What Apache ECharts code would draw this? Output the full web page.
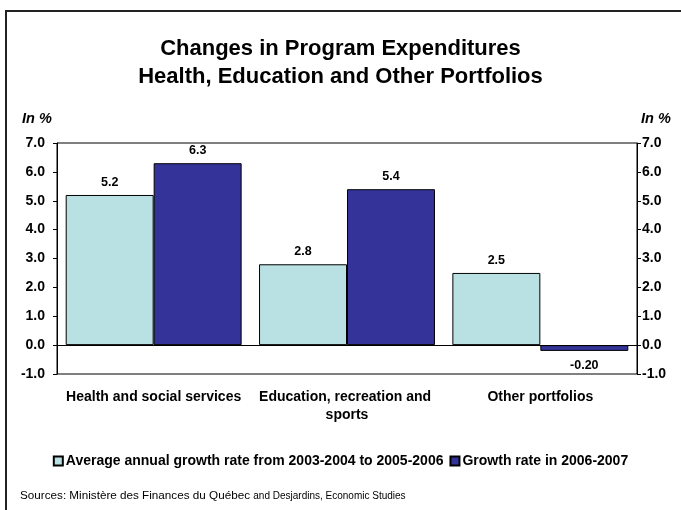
<!DOCTYPE html>
<html>
<head>
<meta charset="utf-8">
<script src="https://cdn.jsdelivr.net/npm/echarts@6/dist/echarts.min.js"></script>
<style>
  html, body { margin: 0; padding: 0; background: #fff; }
  #chart { width: 681px; height: 510px; }
</style>
</head>
<body>
<div id="chart"></div>
<script>
// Program expenditure growth by portfolio, Québec (in %)
const categories = [
  'Health and social services',
  'Education, recreation and sports',
  'Other portfolios'
];
const avgGrowth0306 = [5.2, 2.8, 2.5];
const growth0607 = [6.3, 5.4, -0.2];
const seriesNames = [
  'Average annual growth rate from 2003-2004 to 2005-2006',
  'Growth rate in 2006-2007'
];
const yMin = -1, yMax = 7, yStep = 1;

const FONT = 'Liberation Sans, Arial, sans-serif';
const chart = echarts.init(document.getElementById('chart'), null, { renderer: 'canvas' });

function fmt(v) {
  return v < 0 ? v.toFixed(2) : v.toFixed(1);
}

function barData(values) {
  return values.map(v => ({
    value: v,
    label: { position: v < 0 ? 'bottom' : 'top', distance: v < 0 ? 8 : 6 }
  }));
}

const yAxisCommon = {
  type: 'value',
  min: yMin,
  max: yMax,
  interval: yStep,
  splitLine: { show: false },
  axisLine: { show: true, lineStyle: { color: '#000', width: 1 } },
  axisTick: { show: true, length: 4, lineStyle: { color: '#000' } },
  axisLabel: {
    color: '#000',
    fontFamily: FONT,
    fontWeight: 'bold',
    fontSize: 14,
    formatter: v => v.toFixed(1)
  }
};

const valueLabel = {
  show: true,
  color: '#000',
  fontFamily: FONT,
  fontWeight: 'bold',
  fontSize: 12.5,
  formatter: p => fmt(p.value)
};

chart.setOption({
  animation: false,
  backgroundColor: '#fff',
  title: {
    text: 'Changes in Program Expenditures\nHealth, Education and Other Portfolios',
    left: 'center',
    top: 30,
    textStyle: {
      fontFamily: FONT,
      fontWeight: 'bold',
      fontSize: 22,
      lineHeight: 28,
      color: '#000'
    }
  },
  legend: {
    bottom: 37,
    left: 'center',
    itemWidth: 9,
    itemHeight: 9,
    itemGap: 6,
    icon: 'rect',
    textStyle: {
      fontFamily: FONT,
      fontWeight: 'bold',
      fontSize: 14,
      color: '#000',
      padding: [0, 0, 0, -2]
    },
    data: seriesNames
  },
  grid: {
    left: 57,
    right: 44,
    top: 143,
    bottom: 136,
    show: true,
    borderColor: '#000',
    borderWidth: 1,
    backgroundColor: 'transparent'
  },
  xAxis: {
    type: 'category',
    data: categories,
    axisLine: { show: false },
    axisTick: { show: false },
    axisLabel: {
      interval: 0,
      margin: 14,
      width: 190,
      overflow: 'break',
      color: '#000',
      fontFamily: FONT,
      fontWeight: 'bold',
      fontSize: 14,
      lineHeight: 18
    }
  },
  yAxis: [
    Object.assign({}, yAxisCommon, { position: 'left', axisLabel: Object.assign({}, yAxisCommon.axisLabel, { margin: 12 }) }),
    Object.assign({}, yAxisCommon, { position: 'right', axisLabel: Object.assign({}, yAxisCommon.axisLabel, { margin: 5 }) })
  ],
  series: [
    {
      name: seriesNames[0],
      type: 'bar',
      data: barData(avgGrowth0306),
      barGap: '0%',
      barCategoryGap: '9%',
      itemStyle: { color: '#B9E0E2', borderColor: '#000', borderWidth: 1 },
      label: valueLabel,
      markLine: {
        silent: true,
        symbol: 'none',
        label: { show: false },
        lineStyle: { color: '#000', width: 1, type: 'solid' },
        data: [{ yAxis: 0 }]
      }
    },
    {
      name: seriesNames[1],
      type: 'bar',
      data: barData(growth0607),
      barGap: '0%',
      barCategoryGap: '9%',
      itemStyle: { color: '#333399', borderColor: '#000', borderWidth: 1 },
      label: valueLabel
    }
  ],
  graphic: [
    {
      type: 'rect',
      shape: { x: 6, y: 11, width: 720, height: 560 },
      style: { fill: 'none', stroke: '#222', lineWidth: 2 },
      silent: true
    },
    {
      type: 'text',
      left: 22,
      top: 111,
      style: { text: 'In %', font: 'italic bold 14.5px ' + FONT, fill: '#000' }
    },
    {
      type: 'text',
      left: 641,
      top: 111,
      style: { text: 'In %', font: 'italic bold 14.5px ' + FONT, fill: '#000' }
    },
    {
      type: 'text',
      left: 20,
      top: 490,
      style: {
        text: '{a|Sources: Ministère des Finances du Québec} {b|and Desjardins, Economic Studies}',
        rich: {
          a: { fontFamily: FONT, fontSize: 11.7, fill: '#000', color: '#000' },
          b: { fontFamily: FONT, fontSize: 10, fill: '#000', color: '#000' }
        }
      }
    }
  ]
});
</script>
</body>
</html>
